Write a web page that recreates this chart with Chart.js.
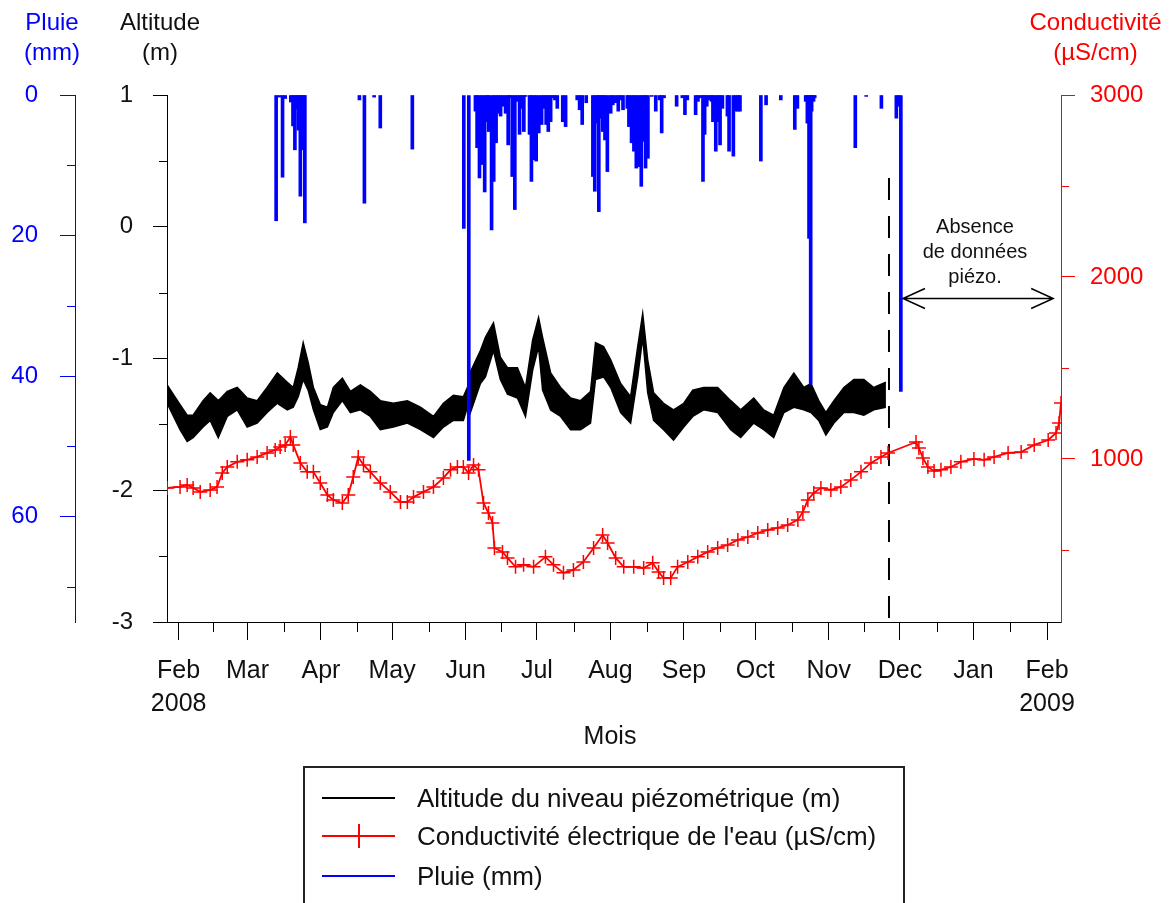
<!DOCTYPE html>
<html><head><meta charset="utf-8">
<script src="https://cdn.jsdelivr.net/npm/chart.js@4/dist/chart.umd.min.js"></script>
<style>
html,body{margin:0;padding:0;background:#fff;overflow:hidden;}
#wrap{position:relative;width:1169px;height:903px;font-family:"Liberation Sans",Arial,sans-serif;}
canvas{position:absolute;left:0;top:0;}
.t{position:absolute;text-align:center;font-size:24px;line-height:30px;white-space:nowrap;}
#legend{position:absolute;left:303px;top:766px;width:602px;height:150px;border:2px solid #222;box-sizing:border-box;}
.row{position:absolute;left:0;height:36px;width:100%;}
.smp{position:absolute;left:17px;width:73px;height:2px;top:17px;}
.lab{position:absolute;left:112px;top:2px;font-size:26px;line-height:32px;white-space:nowrap;color:#111;}
.tick{position:absolute;left:53px;top:6px;width:2px;height:24px;background:#f00;}
.ann{position:absolute;left:900px;width:150px;text-align:center;font-size:20px;line-height:25px;top:214px;color:#111;}
</style></head><body>
<div id="wrap">
<canvas id="c" width="1169" height="903"></canvas>
<div class="t" style="left:2px;top:7px;width:100px;color:#0000ff;">Pluie<br>(mm)</div>
<div class="t" style="left:110px;top:7px;width:100px;color:#111;">Altitude<br>(m)</div>
<div class="t" style="left:1028px;top:7px;width:135px;color:#ff0000;">Conductivité<br>(µS/cm)</div>
<div class="t" style="left:560px;top:720px;width:100px;color:#111;font-size:25px;">Mois</div>
<div class="ann">Absence<br>de données<br>piézo.</div>
<div id="legend">
  <div class="row" style="top:12px;"><div class="smp" style="background:#000;"></div><div class="lab">Altitude du niveau piézométrique (m)</div></div>
  <div class="row" style="top:50px;"><div class="smp" style="background:#f00;"></div><div class="tick"></div><div class="lab">Conductivité électrique de l'eau (µS/cm)</div></div>
  <div class="row" style="top:90px;"><div class="smp" style="background:#0000ff;"></div><div class="lab">Pluie (mm)</div></div>
</div>
</div>
<script>
// ---- axis ticks (x in days since 1 Feb 2008) ----
const monthTickDays = [0,29,60,90,121,151,182,213,243,274,304,335,366];
const monthTickLabels = [["Feb","2008"],"Mar","Apr","May","Jun","Jul","Aug","Sep","Oct","Nov","Dec","Jan",["Feb","2009"]];
const altTicks = [1,0,-1,-2,-3];
const altMinorTicks = [0.5,-0.5,-1.5,-2.5];
const rainTicks = [0,20,40,60];
const rainMinorTicks = [10,30,50,70];
const condTicks = [1000,2000,3000];
const condMinorTicks = [500,1500,2500];

// ---- piezometric altitude (m): daily upper / lower envelope ----
const altDays = [-4.85,0.6,3.6,6.1,10.3,13.3,16.7,20.5,24.7,28.9,33.1,37.3,41.6,45.8,48.3,50.4,52.5,54.6,56.8,59.7,62.7,65.2,69.0,72.4,76.6,80.8,85.0,90.5,96.4,101.9,107.4,111.6,115.8,120.0,122.2,123.0,127.2,129.3,132.7,135.6,138.6,142.8,146.2,149.2,151.7,153.4,156.8,161.0,165.2,169.4,173.6,175.7,179.1,182.1,186.3,190.5,193.5,195.6,197.7,200.2,204.4,208.6,212.9,216.7,221.3,227.2,232.7,236.9,242.4,246.6,250.8,255.1,259.3,263.5,266.5,269.8,272.8,276.2,280.4,284.6,288.8,293.0,298.1];
const altHigh = [-1.20,-1.35,-1.43,-1.43,-1.32,-1.26,-1.32,-1.25,-1.22,-1.30,-1.32,-1.22,-1.11,-1.18,-1.22,-1.07,-0.88,-1.03,-1.22,-1.35,-1.37,-1.22,-1.15,-1.25,-1.20,-1.25,-1.32,-1.34,-1.32,-1.37,-1.44,-1.34,-1.28,-1.29,-1.20,-1.10,-0.94,-0.84,-0.73,-0.99,-1.07,-1.07,-1.22,-0.86,-0.69,-0.84,-1.11,-1.22,-1.30,-1.32,-1.25,-0.88,-0.91,-1.01,-1.19,-1.29,-0.91,-0.66,-1.01,-1.26,-1.34,-1.39,-1.34,-1.24,-1.22,-1.22,-1.32,-1.39,-1.30,-1.39,-1.43,-1.22,-1.11,-1.22,-1.19,-1.32,-1.41,-1.32,-1.22,-1.16,-1.16,-1.22,-1.18];
const altLow = [-1.34,-1.54,-1.63,-1.60,-1.52,-1.47,-1.60,-1.44,-1.39,-1.52,-1.49,-1.41,-1.34,-1.39,-1.37,-1.29,-1.16,-1.24,-1.39,-1.54,-1.52,-1.41,-1.32,-1.41,-1.39,-1.44,-1.54,-1.52,-1.49,-1.54,-1.60,-1.52,-1.47,-1.47,-1.34,-1.41,-1.19,-1.14,-0.94,-1.16,-1.27,-1.30,-1.44,-1.09,-0.91,-1.24,-1.39,-1.44,-1.54,-1.54,-1.49,-1.16,-1.14,-1.22,-1.41,-1.49,-1.14,-0.84,-1.26,-1.47,-1.54,-1.62,-1.52,-1.44,-1.39,-1.41,-1.54,-1.60,-1.49,-1.54,-1.60,-1.41,-1.37,-1.39,-1.41,-1.47,-1.58,-1.49,-1.41,-1.41,-1.43,-1.39,-1.37];

// ---- electrical conductivity (µS/cm) ----
const condDays = [-4.85,0.6,3.6,6.1,9.1,13.3,16.2,18.4,20.5,24.7,28.9,33.1,37.3,40.7,42.8,44.9,47.1,48.3,51.3,54.2,56.8,59.7,62.7,65.2,69.0,71.5,73.6,75.7,77.9,80.8,85.0,89.2,93.5,96.4,99.0,103.2,107.4,111.6,114.6,117.5,120.0,122.2,124.3,126.4,128.5,130.6,132.3,133.1,136.5,138.6,142.0,145.4,149.6,154.6,158.0,162.2,166.4,170.6,174.9,178.7,180.8,184.2,187.6,191.8,196.0,199.8,202.3,204.4,207.4,210.3,214.6,218.8,223.0,227.2,231.4,235.7,239.9,244.1,248.3,252.5,256.7,261.0,263.1,265.2,267.7,270.7,274.9,279.1,283.3,287.6,291.8,296.0,299.0,310.8,312.0,313.7,315.8,318.4,321.3,325.5,329.7,335.2,339.5,343.7,349.6,355.1,360.6,366.5,369.8,371.1,371.9];
const condValues = [841,846,857,841,819,830,846,923,956,984,995,1011,1033,1049,1066,1077,1121,1077,978,929,929,868,802,775,758,802,901,1011,967,929,868,819,764,764,791,819,846,896,940,956,956,923,967,940,758,703,648,511,489,456,407,418,407,462,418,374,390,434,511,582,538,456,407,407,401,429,379,346,346,407,434,462,489,511,527,555,571,593,610,621,637,665,709,775,813,841,830,846,885,929,978,1011,1033,1093,1060,1005,956,934,940,956,984,1000,995,1011,1033,1038,1077,1104,1143,1198,1308];

// ---- daily rain (mm) ----
const rainDays = [41.1,42.5,43.8,44.9,47.3,48.2,49.0,49.9,50.5,51.3,52.0,52.7,53.2,76.2,78.3,82.4,85.0,98.5,120.2,122.3,125.1,125.8,126.8,127.9,129.0,130.0,130.7,131.9,132.8,133.8,134.7,135.7,136.6,137.8,138.9,139.6,140.6,141.7,142.7,143.7,144.5,145.5,146.2,147.9,148.7,149.7,150.7,151.8,153.0,153.9,154.9,155.8,156.8,157.7,158.6,159.6,161.9,163.1,168.0,169.0,170.1,171.8,174.6,175.4,176.5,177.1,178.0,178.8,179.7,180.7,182.1,183.0,184.2,185.3,186.3,187.3,189.1,189.8,190.9,191.9,192.9,194.0,195.0,196.1,196.8,197.8,199.4,201.1,202.7,203.6,204.6,209.9,212.3,213.4,214.4,217.9,218.9,220.0,221.0,221.7,222.6,223.5,224.6,225.2,226.4,227.3,228.2,229.2,231.3,232.0,233.8,234.8,235.8,236.6,245.4,247.6,253.8,259.7,260.8,264.3,265.0,265.7,266.4,266.8,267.6,268.1,285.2,289.8,296.2,302.5,303.5,304.4];
const rainMm = [17.9,0.3,11.7,0.5,1.0,4.4,7.8,2.0,5.0,14.4,7.8,2.0,18.2,0.7,15.4,0.3,4.7,7.7,19.0,52.0,2.3,7.5,11.8,9.9,13.8,3.8,5.2,19.2,12.3,6.8,2.6,3.0,1.6,2.6,7.1,0.4,11.6,16.3,0.9,5.6,1.9,5.2,0.2,5.6,12.3,9.2,9.4,5.4,4.2,1.9,4.2,5.2,3.8,0.4,0.7,1.9,3.8,4.5,0.7,2.1,4.2,1.1,11.6,13.7,4.0,16.6,3.3,5.2,6.4,10.9,2.6,1.4,1.1,2.3,0.7,2.1,1.9,4.5,6.8,8.0,10.4,10.2,13.0,6.6,10.4,9.0,0.2,2.3,0.7,5.4,0.4,1.6,0.4,2.8,0.7,2.8,0.9,0.4,12.3,5.6,1.6,0.7,0.9,3.8,8.0,3.8,7.1,1.9,3.0,8.0,8.7,2.3,2.3,2.3,9.4,1.4,0.7,4.9,1.9,0.9,4.0,20.4,41.2,2.3,0.9,0.4,7.5,0.2,1.9,3.3,1.6,42.2];

// ---- annotation: end of piezometric record ----
const gapStartDay = 299.4;
const gapArrow = {fromDay: 305.3, toDay: 368.6, alt: -0.54};

const FAM = "'Liberation Sans', Arial, sans-serif";
Chart.defaults.font.family = FAM;

const pts = (xs, ys) => xs.map((x, i) => ({x: x, y: ys[i]}));

const decoPlugin = {
  id: 'deco',
  afterDraw(chart) {
    const ctx = chart.ctx, s = chart.scales;
    ctx.save();
    ctx.lineWidth = 1;
    const mids = monthTickDays.slice(1).map((v, i) => (v + monthTickDays[i]) / 2);
    ctx.strokeStyle = '#000';
    mids.forEach(v => {
      const px = Math.round(s.x.getPixelForValue(v)) + 0.5;
      ctx.beginPath(); ctx.moveTo(px, s.x.top); ctx.lineTo(px, s.x.top + 10); ctx.stroke();
    });
    const vminor = (sc, vals, color, left) => {
      ctx.strokeStyle = color;
      vals.forEach(v => {
        const py = Math.round(sc.getPixelForValue(v)) + 0.5;
        const x0 = left ? sc.right : sc.left;
        ctx.beginPath(); ctx.moveTo(x0, py); ctx.lineTo(left ? x0 - 8 : x0 + 8, py); ctx.stroke();
      });
    };
    vminor(s.yAlt, altMinorTicks, '#000', true);
    vminor(s.yRain, rainMinorTicks, '#0000ff', true);
    vminor(s.yCond, condMinorTicks, '#ff0000', false);
    // double arrow
    const x1 = s.x.getPixelForValue(gapArrow.fromDay), x2 = s.x.getPixelForValue(gapArrow.toDay);
    const y = Math.round(s.yAlt.getPixelForValue(gapArrow.alt)) + 0.5;
    ctx.strokeStyle = '#000'; ctx.lineWidth = 1.5;
    ctx.beginPath();
    ctx.moveTo(x1, y); ctx.lineTo(x2, y);
    ctx.moveTo(x1 + 22, y - 10); ctx.lineTo(x1, y); ctx.lineTo(x1 + 22, y + 10);
    ctx.moveTo(x2 - 22, y - 10); ctx.lineTo(x2, y); ctx.lineTo(x2 - 22, y + 10);
    ctx.stroke();
    ctx.restore();
  }
};

new Chart(document.getElementById('c'), {
  type: 'line',
  data: {
    datasets: [
      {type: 'bar', label: 'Pluie (mm)', yAxisID: 'yRain', xAxisID: 'x', data: pts(rainDays, rainMm),
       backgroundColor: '#0000ff', borderWidth: 0, barThickness: 3, grouped: false, order: 0},
      {label: 'Conductivité électrique de l\'eau (µS/cm)', yAxisID: 'yCond', data: pts(condDays, condValues),
       borderColor: '#ff0000', borderWidth: 1.8, pointStyle: 'cross', pointRadius: 7, pointBorderColor: '#ff0000',
       pointBorderWidth: 1.5, pointBackgroundColor: '#ff0000', tension: 0, fill: false, order: 1},
      {label: 'alt-high', yAxisID: 'yAlt', data: pts(altDays, altHigh), borderColor: '#000', borderWidth: 1.5,
       pointRadius: 0, tension: 0, fill: false, order: 2},
      {label: 'Altitude du niveau piézométrique (m)', yAxisID: 'yAlt', data: pts(altDays, altLow), borderColor: '#000',
       borderWidth: 1.5, pointRadius: 0, tension: 0, fill: {target: 2}, backgroundColor: '#000', order: 3},
      {label: 'gap', yAxisID: 'yAlt', data: [{x: gapStartDay, y: 0.37}, {x: gapStartDay, y: -3}],
       borderColor: '#000', borderWidth: 2, borderDash: [22, 16], pointRadius: 0, fill: false, order: 4}
    ]
  },
  options: {
    responsive: false, animation: false, events: [],
    layout: {padding: {left: 0, right: 0, top: 95, bottom: 151}},
    plugins: {legend: {display: false}, tooltip: {enabled: false}, title: {display: false}},
    scales: {
      x: {type: 'linear', position: 'bottom', min: -4.9, max: 371.9, offset: false,
        afterBuildTicks: sc => { sc.ticks = monthTickDays.map(v => ({value: v})); },
        afterFit: sc => { sc.height = 130; },
        ticks: {autoSkip: false, maxRotation: 0, minRotation: 0, padding: 15, color: '#111',
          font: {size: 25, lineHeight: 1.3}, callback: (v, i) => monthTickLabels[i]},
        grid: {drawOnChartArea: false, offset: false, tickLength: 18, tickColor: '#000', tickWidth: 1},
        border: {color: '#000', width: 1}},
      yAlt: {type: 'linear', position: 'left', weight: 0, min: -3, max: 1,
        afterBuildTicks: sc => { sc.ticks = altTicks.map(v => ({value: v})); },
        afterFit: sc => { sc.width = 92; },
        ticks: {autoSkip: false, padding: 20, color: '#111', font: {size: 24}, callback: v => String(v)},
        grid: {drawOnChartArea: false, tickLength: 14, tickColor: '#000'},
        border: {color: '#000', width: 1}},
      yRain: {type: 'linear', position: 'left', weight: 1, min: 0, max: 75, reverse: true,
        afterBuildTicks: sc => { sc.ticks = rainTicks.map(v => ({value: v})); },
        afterFit: sc => { sc.width = 75; },
        ticks: {autoSkip: false, padding: 22, color: '#0000ff', font: {size: 24}, callback: v => String(v)},
        grid: {drawOnChartArea: false, tickLength: 15, tickColor: '#0000ff'},
        border: {color: '#0000ff', width: 1}},
      yCond: {type: 'linear', position: 'right', min: 104, max: 3000,
        afterBuildTicks: sc => { sc.ticks = condTicks.map(v => ({value: v})); },
        afterFit: sc => { sc.width = 108; },
        ticks: {autoSkip: false, padding: 15, color: '#ff0000', font: {size: 24}, callback: v => String(v)},
        grid: {drawOnChartArea: false, tickLength: 14, tickColor: '#ff0000'},
        border: {color: '#ff0000', width: 1}}
    }
  },
  plugins: [decoPlugin]
});
</script>
</body></html>
